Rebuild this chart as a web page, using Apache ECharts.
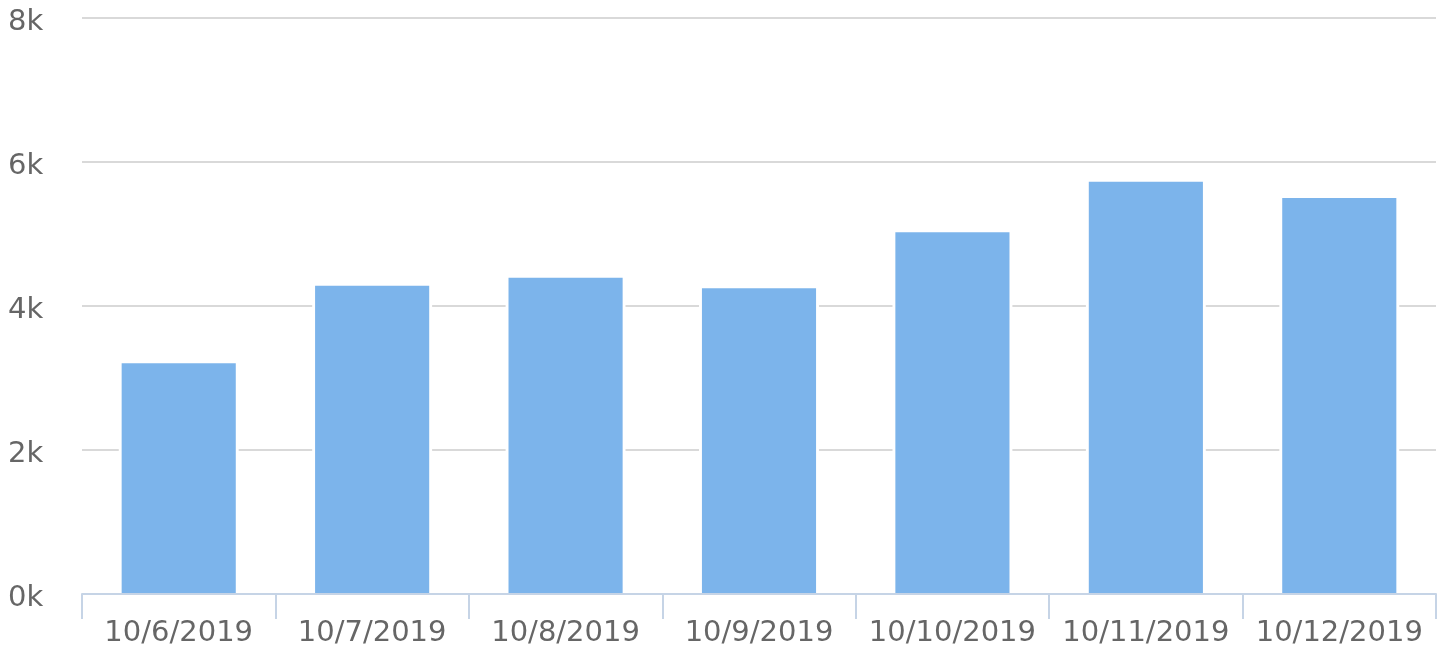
<!DOCTYPE html>
<html>
<head>
<meta charset="utf-8">
<script src="https://cdn.jsdelivr.net/npm/echarts@6/dist/echarts.min.js"></script>
<style>
  html, body { margin: 0; padding: 0; background: #fff; }
  #chart { width: 1447px; height: 648px; }
</style>
</head>
<body>
<div id="chart"></div>
<script>
"use strict";
const dates = ['10/6/2019', '10/7/2019', '10/8/2019', '10/9/2019', '10/10/2019', '10/11/2019', '10/12/2019'];
const values = [3204, 4282, 4393, 4246, 5024, 5726, 5500];

const chart = echarts.init(document.getElementById('chart'));
const axisColor = '#c6d4e6';
const option = {
    animation: false,
    grid: {
        left: 82,
        right: 11,
        top: 18,
        bottom: 54,
        containLabel: false
    },
    xAxis: [{
        type: 'category',
        data: dates,
        z: 5,
        axisLine: {
            lineStyle: { color: axisColor, width: 2 }
        },
        axisTick: {
            show: true,
            interval: 0,
            length: 25,
            lineStyle: { color: axisColor, width: 2 }
        },
        axisLabel: {
            interval: 0,
            color: '#666666',
            fontFamily: 'DejaVu Sans',
            fontSize: 29,
            margin: 25
        }
    }, {
        // hidden twin axis so the white "border" bar centres on its own
        type: 'category',
        data: dates,
        show: false
    }],
    yAxis: {
        type: 'value',
        min: 0,
        max: 8000,
        interval: 2000,
        axisLine: { show: false },
        axisTick: { show: false },
        splitLine: {
            lineStyle: { color: '#d9d9d9', width: 2 }
        },
        axisLabel: {
            color: '#666666',
            fontFamily: 'DejaVu Sans',
            fontSize: 29,
            align: 'left',
            verticalAlign: 'top',
            margin: 74,
            padding: [-10, 0, 0, 0],
            formatter: function (v) {
                return (v / 1000) + 'k';
            }
        }
    },
    series: [{
        // white halo behind each bar, cuts the grid lines like the original
        type: 'bar',
        xAxisIndex: 1,
        data: values,
        barWidth: '62%',
        silent: true,
        itemStyle: { color: '#ffffff' }
    }, {
        type: 'bar',
        data: values,
        barWidth: '59%',
        itemStyle: { color: '#7cb4eb' }
    }]
};
chart.setOption(option);
</script>
</body>
</html>
